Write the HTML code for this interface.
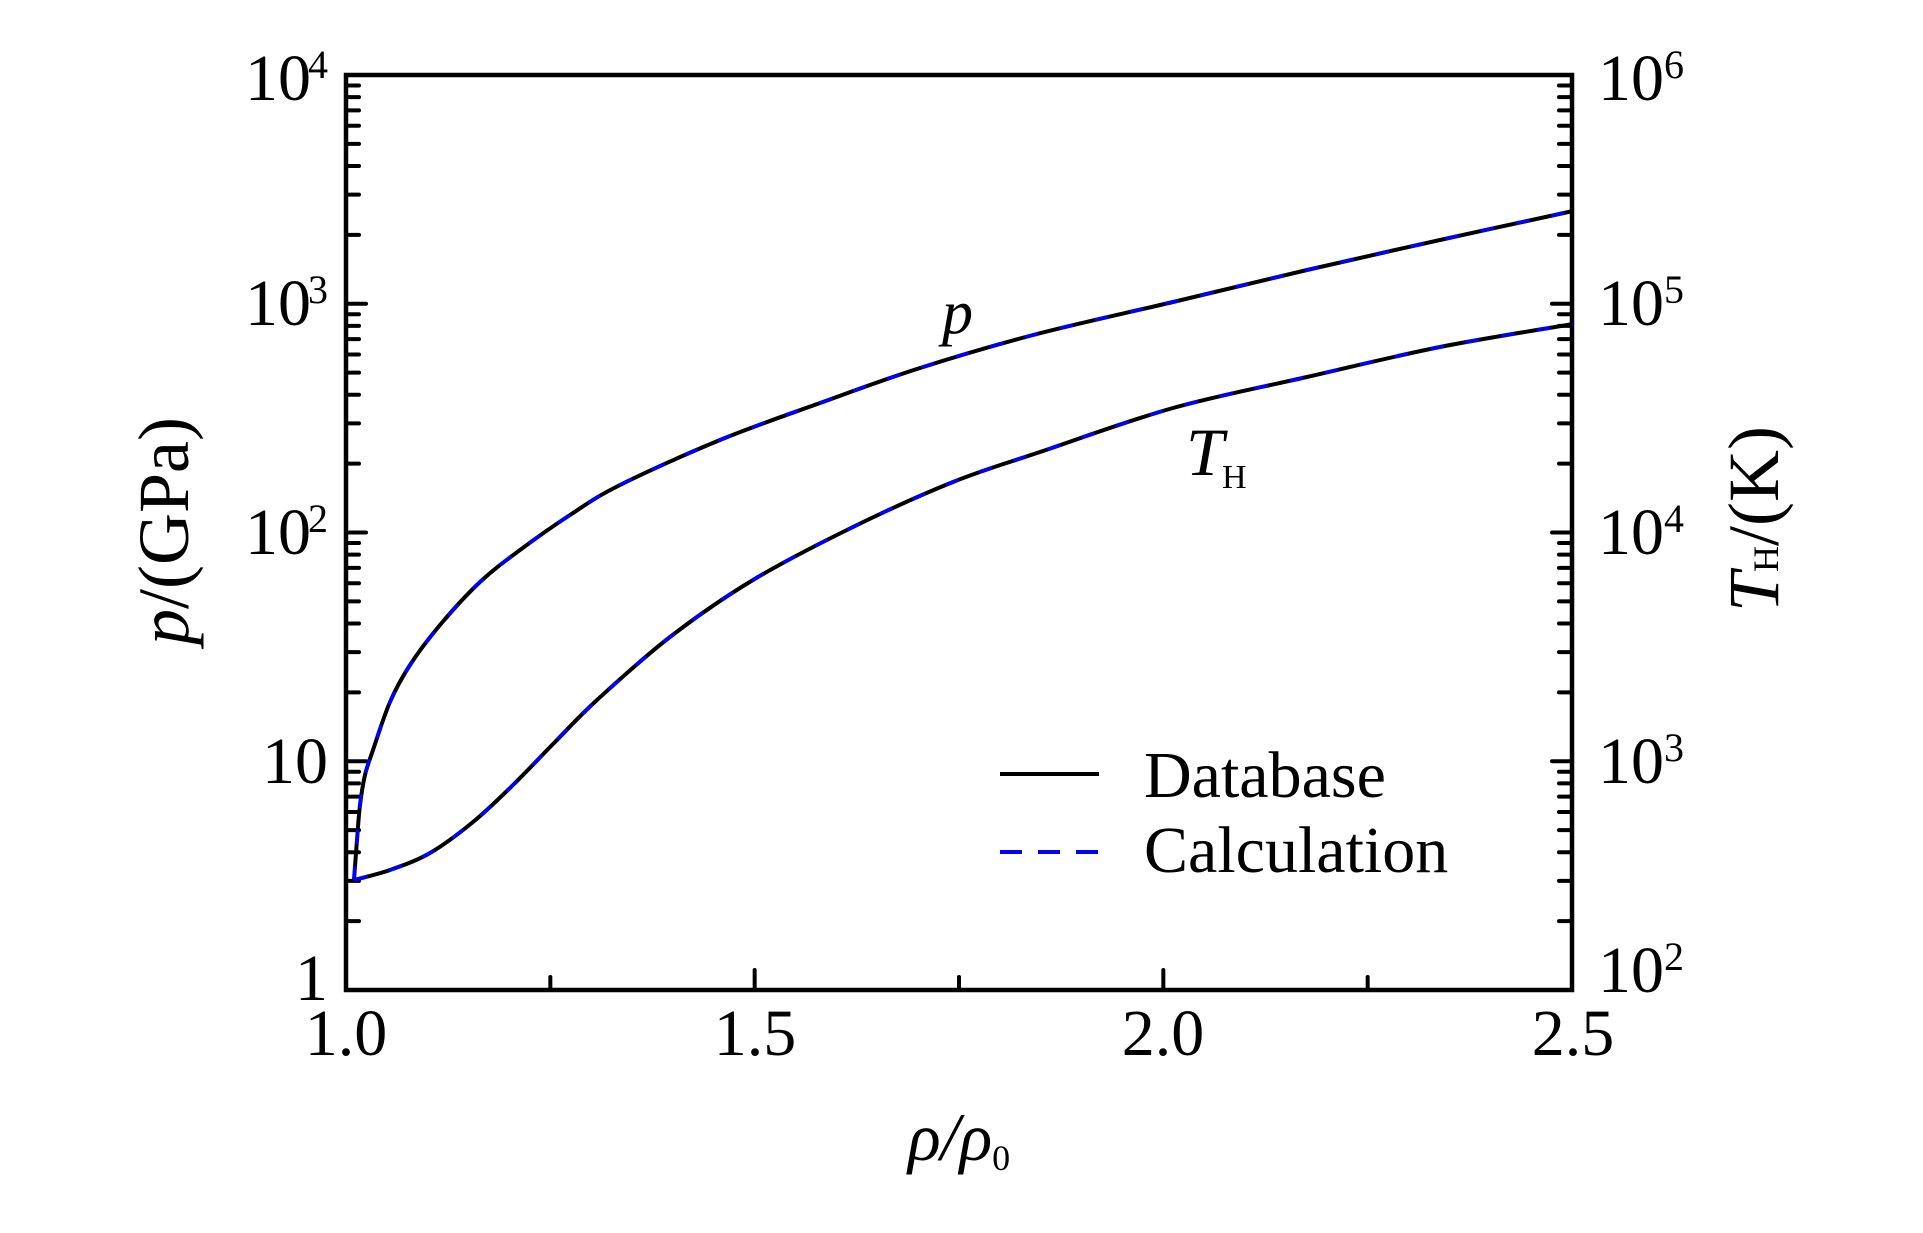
<!DOCTYPE html>
<html><head><meta charset="utf-8">
<style>
html,body{margin:0;padding:0;background:#fff;}
svg{display:block;}
text{font-family:"Liberation Serif",serif;fill:#000;}
</style></head>
<body>
<svg id="s" width="1923" height="1233" viewBox="0 0 1923 1233" xmlns="http://www.w3.org/2000/svg">
<rect x="0" y="0" width="1923" height="1233" fill="#fff"/>
<g id="ticks" stroke="#000" stroke-width="4" stroke-linecap="round"></g>
<rect x="346" y="75" width="1226" height="915" fill="none" stroke="#000" stroke-width="4.5"/>

<path id="pb" fill="none" stroke="#000" stroke-width="4" stroke-linejoin="round"/>
<path id="pd" fill="none" stroke="#0000ff" stroke-width="3.5" stroke-dasharray="14 22"/>
<path id="tb" fill="none" stroke="#000" stroke-width="4" stroke-linejoin="round"/>
<path id="td" fill="none" stroke="#0000ff" stroke-width="3.5" stroke-dasharray="14 22"/>

<g font-size="66" text-anchor="end">
<text x="311" y="100">10</text><text x="328" y="78" font-size="40">4</text>
<text x="311" y="325">10</text><text x="328" y="303" font-size="40">3</text>
<text x="311" y="554">10</text><text x="328" y="532" font-size="40">2</text>
<text x="328" y="783">10</text>
<text x="328" y="1000">1</text>
</g>
<g font-size="66">
<text x="1598" y="100">10</text><text x="1664" y="78" font-size="40">6</text>
<text x="1598" y="325">10</text><text x="1664" y="303" font-size="40">5</text>
<text x="1598" y="554">10</text><text x="1664" y="532" font-size="40">4</text>
<text x="1598" y="783">10</text><text x="1664" y="761" font-size="40">3</text>
<text x="1598" y="992">10</text><text x="1664" y="970" font-size="40">2</text>
</g>
<g font-size="66" text-anchor="middle">
<text x="346" y="1055">1.0</text>
<text x="755" y="1055">1.5</text>
<text x="1163" y="1055">2.0</text>
<text x="1573" y="1055">2.5</text>
</g>

<text x="942" y="333" font-size="62" font-style="italic">p</text>
<text x="1186" y="475" font-size="68" font-style="italic">T</text>
<text x="1222" y="488" font-size="34">H</text>

<text transform="translate(188,531) rotate(-90)" font-size="72" text-anchor="middle"><tspan font-style="italic">p</tspan>/(GPa)</text>
<text transform="translate(1778,519) rotate(-90)" font-size="72" text-anchor="middle"><tspan font-style="italic">T</tspan><tspan font-size="36">H</tspan>/(K)</text>
<text x="908" y="1160" font-size="68" font-style="italic">ρ/ρ<tspan font-style="normal" font-size="36" dy="10">0</tspan></text>

<line x1="1000" y1="774" x2="1099" y2="774" stroke="#000" stroke-width="4"/>
<line x1="1000" y1="852" x2="1099" y2="852" stroke="#0000ff" stroke-width="4" stroke-dasharray="22 16"/>
<text x="1144" y="797" font-size="66">Database</text>
<text x="1144" y="872" font-size="66">Calculation</text>
</svg>
<script>
(function(){
var g=document.getElementById('ticks');var ns='http://www.w3.org/2000/svg';
function L(x1,y1,x2,y2){var l=document.createElementNS(ns,'line');l.setAttribute('x1',x1);l.setAttribute('y1',y1);l.setAttribute('x2',x2);l.setAttribute('y2',y2);g.appendChild(l);}
var D=228.75;
for(var d=0;d<4;d++){
 for(var k=1;k<=9;k++){
  var y=990-(d+Math.log10(k))*D;
  var len=(k==1)?20:13;
  L(346,y,346+len,y);
  L(1572,y,1572-len,y);
 }
}
var xs=[[1,20],[1.25,13],[1.5,20],[1.75,13],[2,20],[2.25,13],[2.5,20]];
xs.forEach(function(a){var x=346+(a[0]-1)/1.5*1226;L(x,990,x,990-a[1]);});
function cr(p){var d='M'+p[0][0]+','+p[0][1];
 for(var i=0;i<p.length-1;i++){var p0=p[i-1]||p[i],p1=p[i],p2=p[i+1],p3=p[i+2]||p2;
  d+=' C'+(p1[0]+(p2[0]-p0[0])/6)+','+(p1[1]+(p2[1]-p0[1])/6)+' '+(p2[0]-(p3[0]-p1[0])/6)+','+(p2[1]-(p3[1]-p1[1])/6)+' '+p2[0]+','+p2[1];}
 return d;}
var P=[[354,880],[357,840],[360,805],[365,775],[373,750],[390,702],[410,665],[440,625],[480,582],[520,550],[570,515],[620,485],[720,440],[820,403],[920,368],[1037,334],[1173,302],[1307,270],[1440,240],[1573,211]];
var T=[[354,880],[390,870],[430,853],[473,822],[513,785],[555,742],[597,700],[670,637],[753,580],[853,527],[953,482],[1040,452],[1173,408],[1307,377],[1440,347],[1573,324]];
var a=cr(P),b=cr(T);
['pb','pd'].forEach(function(i){document.getElementById(i).setAttribute('d',a);});
['tb','td'].forEach(function(i){document.getElementById(i).setAttribute('d',b);});
})();
</script>
</body></html>
